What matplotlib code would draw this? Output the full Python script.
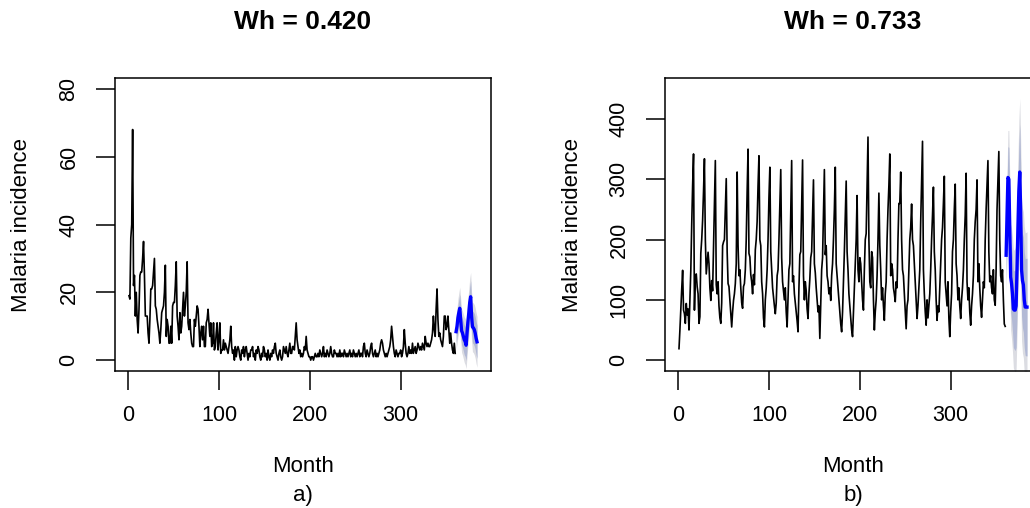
import numpy as np
import matplotlib
matplotlib.use("Agg")
import matplotlib.pyplot as plt


plt.rcParams["font.family"] = ["Liberation Sans", "DejaVu Sans"]

TITLES = ["Wh = 0.420", "Wh = 0.733"]
SUBS = ["a)", "b)"]
X_LABEL = "Month"
Y_LABEL = "Malaria incidence"

X_TICKS = [0, 100, 200, 300]
Y_TICKS_A = [0, 20, 40, 60, 80]
Y_TICKS_B = [0, 100, 200, 300, 400]

# monthly incidence, panel a (months 1..360)
incidence_a = [
    19, 18, 36, 40, 68, 22, 25, 13, 20, 12, 8, 15, 25, 26, 26, 30, 35,
    25, 13, 13, 13, 8, 5, 12, 21, 21, 22, 26, 30,
    16, 15, 12, 10, 8, 5, 9, 14, 15, 16, 20, 28,
    7, 12, 10, 5, 5, 10, 5, 16, 17, 17, 22, 29,
    13, 10, 6, 14, 8, 10, 15, 20, 13, 16, 20, 29,
    11, 9, 12, 8, 5, 4, 4, 12, 10, 13, 16, 15,
    10, 4, 8, 10, 6, 10, 4, 4, 11, 12, 15, 11,
    7, 11, 4, 5, 11, 3, 4, 8, 11, 3, 6, 11,
    2, 3, 3, 6, 3, 5, 4, 3, 2, 4, 6, 10,
    4, 2, 3, 0, 4, 1, 3, 4, 3, 1, 0, 3,
    2, 4, 1, 3, 4, 2, 0, 2, 1, 3, 3, 4,
    1, 2, 0, 3, 2, 4, 3, 1, 0, 2, 1, 4,
    3, 1, 2, 0, 3, 1, 0, 2, 1, 3, 2, 4,
    5, 2, 1, 0, 2, 3, 1, 0, 1, 4, 3, 2,
    4, 2, 1, 3, 5, 2, 2, 4, 4, 3, 7, 11,
    6, 4, 2, 3, 1, 2, 1, 2, 4, 3, 7, 3,
    2, 1, 1, 0, 1, 1, 0, 1, 2, 1, 1, 2,
    1, 3, 2, 1, 2, 4, 1, 2, 1, 3, 2, 1,
    2, 4, 2, 1, 1, 3, 2, 2, 1, 2, 1, 3,
    1, 2, 2, 1, 3, 2, 1, 2, 1, 2, 3, 1,
    2, 1, 3, 2, 1, 2, 1, 2, 3, 1, 2, 2,
    1, 4, 5, 2, 1, 3, 2, 1, 2, 4, 5, 2,
    1, 2, 3, 1, 2, 1, 2, 3, 5, 6, 5, 3,
    2, 1, 2, 1, 2, 3, 4, 6, 10, 7, 4, 2,
    1, 3, 2, 1, 2, 2, 3, 1, 2, 4, 9, 5,
    2, 1, 2, 4, 2, 3, 2, 5, 2, 3, 4, 2,
    3, 5, 4, 3, 4, 3, 5, 4, 3, 7, 5, 4,
    5, 4, 4, 5, 6, 8, 13, 9, 7, 15, 21, 12,
    7, 8, 6, 5, 4, 7, 13, 13, 9, 10, 13, 9,
    5, 8, 5, 3, 2, 5, 2,
]

forecast_a = [8.4, 10, 12.5, 14, 15.3, 12, 8.7, 8, 7, 6, 5.5, 4.4,
              8, 11.3, 14, 17, 18.7, 13, 9.8, 9.5, 9, 8, 6.5, 5.4]
lo80_a = [5.1, 6.6, 8.9, 10.2, 11.3, 7.9, 4.5, 3.8, 2.7, 1.6, 1.1, -0.1,
          3.4, 6.7, 9.4, 12.4, 14.0, 8.3, 5.1, 4.8, 4.2, 3.2, 1.6, 0.5]
hi80_a = [11.7, 13.4, 16.1, 17.8, 19.3, 16.1, 12.9, 12.2, 11.3, 10.4, 9.9, 8.9,
          12.6, 15.9, 18.6, 21.6, 23.4, 17.7, 14.5, 14.2, 13.8, 12.8, 11.4, 10.3]
lo95_a = [3.4, 4.7, 6.9, 8.1, 9.1, 5.7, 2.3, 1.5, 0.4, -0.7, -1.3, -2.5,
          1.0, 4.3, 6.9, 9.9, 11.5, 5.8, 2.5, 2.2, 1.6, 0.6, -1.0, -2.1]
hi95_a = [13.4, 15.3, 18.1, 19.9, 21.5, 18.3, 15.1, 14.5, 13.6, 12.7, 12.3, 11.3,
          15.0, 18.3, 21.1, 24.1, 25.9, 20.2, 17.1, 16.8, 16.4, 15.4, 14.0, 12.9]

# monthly incidence, panel b (months 1..360)
incidence_b = [
    19, 50, 85, 118, 149, 83, 77, 61, 94, 75, 85, 50, 100, 149, 225, 290, 342,
    83, 140, 143, 122, 110, 61, 72, 177, 200, 232, 280, 334,
    200, 143, 160, 179, 160, 120, 99, 132, 115, 190, 270, 331,
    125, 110, 130, 90, 70, 61, 95, 190, 196, 200, 250, 301,
    180, 127, 122, 100, 77, 55, 80, 99, 110, 127, 160, 312,
    190, 140, 150, 120, 95, 86, 122, 127, 150, 200, 280, 350,
    177, 171, 142, 130, 110, 142, 125, 183, 200, 230, 290, 339,
    200, 190, 130, 110, 70, 55, 100, 120, 150, 200, 270, 320,
    180, 150, 120, 105, 90, 77, 95, 140, 150, 200, 260, 316,
    170, 130, 115, 100, 120, 80, 55, 100, 150, 160, 250, 331,
    130, 140, 110, 95, 80, 65, 47, 120, 175, 180, 260, 332,
    140, 100, 130, 115, 85, 69, 110, 135, 170, 180, 240, 299,
    160, 145, 120, 100, 80, 90, 36, 90, 150, 170, 240, 316,
    175, 190, 140, 130, 110, 120, 99, 140, 160, 200, 250, 320,
    160, 140, 120, 100, 80, 60, 47, 80, 130, 180, 240, 297,
    180, 150, 110, 90, 70, 50, 39, 80, 120, 160, 200, 273,
    150, 130, 170, 160, 130, 100, 83, 150, 200, 210, 290, 370,
    200, 130, 120, 180, 170, 100, 50, 80, 100, 140, 200, 277,
    190, 150, 100, 120, 90, 66, 110, 130, 200, 250, 290, 342,
    140, 160, 150, 120, 110, 97, 130, 120, 200, 260, 260, 312,
    200, 150, 140, 110, 80, 52, 90, 100, 150, 200, 220, 259,
    200, 190, 160, 130, 100, 69, 90, 120, 150, 230, 300, 363,
    150, 110, 80, 58, 100, 70, 90, 110, 150, 200, 240, 287,
    180, 150, 100, 66, 90, 80, 120, 160, 200, 220, 260, 305,
    130, 110, 90, 130, 70, 39, 80, 110, 180, 200, 250, 292,
    160, 140, 100, 120, 90, 69, 100, 120, 150, 200, 240, 310,
    130, 100, 120, 80, 58, 90, 110, 140, 200, 230, 250, 299,
    130, 160, 120, 90, 71, 100, 130, 120, 200, 250, 290, 331,
    180, 130, 140, 120, 110, 150, 100, 91, 150, 250, 300, 346,
    200, 140, 130, 150, 100, 60, 56,
]

forecast_b = [174, 240, 303, 300, 220, 138, 127, 110, 85, 83, 83, 90,
              150, 220, 280, 312, 250, 150, 132, 125, 100, 88, 88, 88]
lo80_b = [134, 194, 252, 247, 165, 81, 67, 48, 21, 18, 16, 21,
          79, 147, 205, 233, 173, 73, 54, 46, 21, 8, 7, 7]
hi80_b = [214, 286, 354, 353, 275, 195, 187, 172, 149, 148, 150, 159,
          221, 293, 355, 391, 327, 227, 210, 204, 179, 168, 169, 169]
lo95_b = [112, 170, 225, 219, 135, 50, 35, 15, -13, -17, -20, -16,
          41, 108, 164, 190, 132, 32, 12, 4, -22, -35, -36, -37]
hi95_b = [236, 310, 381, 381, 305, 226, 219, 205, 183, 183, 186, 196,
          259, 332, 396, 434, 368, 268, 252, 246, 222, 211, 212, 213]


W, H = 1030, 508

fig = plt.figure(figsize=(W / 100, H / 100), dpi=100)


def box(left, top, right, bottom):
    return [left / W, 1 - bottom / H, (right - left) / W, (bottom - top) / H]


def draw_panel(ax, series, fc, lo80, hi80, lo95, hi95, ylim, yticks):

    month = np.arange(1, len(series) + 1)
    fc_month = np.arange(len(series) + 1, len(series) + 1 + len(fc))

    ax.plot(month, series, color="black", lw=1.2)

    ax.fill_between(fc_month, lo95, hi95, color="#DBDCE2", lw=0)
    ax.fill_between(fc_month, lo80, hi80, color="#B2B9D5", lw=0)
    ax.plot(fc_month, fc, color="#0000FF", lw=2.4)

    ax.set_xlim(-14.4, 399.4)
    ax.set_ylim(ylim)

    ax.set_xticks(X_TICKS)
    ax.set_yticks(yticks)
    ax.set_yticklabels([str(t) for t in yticks], rotation=90, va="center")

    ax.tick_params(length=14, width=1.1, labelsize=15.5, pad=10.5)
    ax.tick_params(axis="y", pad=11.5)

    for s in ax.spines.values():
        s.set_linewidth(1.1)


panels = [
    (115, incidence_a, forecast_a, lo80_a, hi80_a, lo95_a, hi95_a,
     (-3.2, 83.2), Y_TICKS_A),
    (665, incidence_b, forecast_b, lo80_b, hi80_b, lo95_b, hi95_b,
     (-18, 468), Y_TICKS_B),
]

for i, (left, series, fc, lo80, hi80, lo95, hi95, ylim, yticks) in enumerate(panels):

    ax = fig.add_axes(box(left, 78, left + 376, 371))

    draw_panel(ax, series, fc, lo80, hi80, lo95, hi95, ylim, yticks)

    cx = left + 188

    fig.text(cx / W, 1 - 22 / H, TITLES[i], ha="center", va="center",
             fontsize=19, fontweight="bold")

    fig.text(cx / W, 1 - 467 / H, X_LABEL, ha="center", va="center",
             fontsize=16)

    fig.text(cx / W, 1 - 495 / H, SUBS[i], ha="center", va="center",
             fontsize=16)

    fig.text((left - 93) / W, 1 - 224.5 / H, Y_LABEL, ha="center",
             va="center", rotation=90, fontsize=16)


fig.savefig("out.png", dpi=100)
